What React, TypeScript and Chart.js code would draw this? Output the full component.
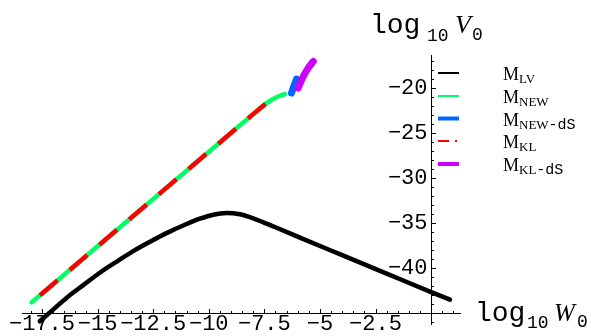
import React, { useEffect, useRef } from "react";
import { Chart, registerables } from "chart.js";

Chart.register(...registerables);

// ---- data ----
const LV_X = [-17.6, -17.0, -16.4, -15.6, -14.9, -14.1, -13.4, -12.6, -11.9, -11.1, -10.4, -9.8, -9.2, -8.6, -8.0, -7.0, -5.9, -4.0, -2.0, 0.0, 0.85];
const LV_Y = [-45.9, -44.6, -43.3, -41.8, -40.5, -39.2, -38.1, -37.0, -36.1, -35.2, -34.5, -34.05, -33.85, -34.0, -34.45, -35.45, -36.6, -38.55, -40.6, -42.65, -43.5];

const NEW_X = [-17.97, -15.0, -12.0, -9.0, -8.15, -7.7, -7.4, -7.0, -6.58];
const NEW_Y = [-43.8, -37.56, -31.26, -24.96, -23.18, -22.25, -21.64, -21.05, -20.64];

const NEWDS_X = [-6.28, -6.17, -6.05];
const NEWDS_Y = [-20.53, -19.75, -18.98];

const KL_X = [-17.59, -15.0, -12.0, -9.0, -8.15, -7.7, -7.45];
const KL_Y = [-43.0, -37.56, -31.26, -24.96, -23.18, -22.25, -21.74];

const KLDS_X = [-5.98, -5.75, -5.53, -5.3];
const KLDS_Y = [-19.98, -18.69, -17.76, -17.02];

const X_TICKS = [-17.5, -15, -12.5, -10, -7.5, -5, -2.5];
const Y_TICKS = [-40, -35, -30, -25, -20];
const X_RANGE = [-18.4, 1.3];
const Y_RANGE = [-46.2, -16.3];
const X_AXIS_AT_Y = -45;
const Y_AXIS_AT_X = 0;

const LEGEND = [
  { main: "M", sub: "LV", mono: "", color: "#000000", width: 2, dash: [] as number[] },
  { main: "M", sub: "NEW", mono: "", color: "#00ff66", width: 2, dash: [] as number[] },
  { main: "M", sub: "NEW", mono: "-dS", color: "#0066ff", width: 4, dash: [] as number[] },
  { main: "M", sub: "KL", mono: "", color: "#ff0000", width: 2, dash: [11, 6, 2, 20] },
  { main: "M", sub: "KL", mono: "-dS", color: "#cc00ff", width: 4, dash: [] as number[] },
];

const pts = (xs: number[], ys: number[]) => xs.map((x, i) => ({ x, y: ys[i] }));
const fmt = (v: number) => (v < 0 ? "\u2212" + String(Math.abs(v)) : String(v));

const MONO = "'Liberation Mono', 'DejaVu Sans Mono', monospace";
const SERIF = "'Liberation Serif', 'DejaVu Serif', serif";

const decorPlugin = {
  id: "decor",
  beforeDatasetsDraw(chart: any) {
    const { ctx } = chart;
    const xs = chart.scales.x;
    const ys = chart.scales.y;
    const x0 = Math.round(xs.getPixelForValue(Y_AXIS_AT_X)) + 0.5;
    const y0 = Math.round(ys.getPixelForValue(X_AXIS_AT_Y)) + 0.5;
    ctx.save();
    ctx.strokeStyle = "#000";
    ctx.lineWidth = 1;
    ctx.beginPath();
    // x-axis ticks (inward, upward)
    for (let k = Math.ceil(X_RANGE[0] * 2); k <= Math.floor(X_RANGE[1] * 2); k++) {
      const v = k / 2;
      if (v === Y_AXIS_AT_X) continue;
      const major = Math.abs(v / 2.5 - Math.round(v / 2.5)) < 1e-9;
      const px = Math.round(xs.getPixelForValue(v)) + 0.5;
      ctx.moveTo(px, y0);
      ctx.lineTo(px, y0 - (major ? 4.5 : 2.5));
    }
    // y-axis ticks (inward, rightward)
    for (let v = Math.ceil(Y_RANGE[0]); v <= Math.floor(Y_RANGE[1]); v++) {
      if (v === X_AXIS_AT_Y) continue;
      const major = v % 5 === 0;
      const py = Math.round(ys.getPixelForValue(v)) + 0.5;
      ctx.moveTo(x0, py);
      ctx.lineTo(x0 + (major ? 4.5 : 2.5), py);
    }
    ctx.stroke();

    // y tick labels
    ctx.fillStyle = "#000";
    ctx.font = `22px ${MONO}`;
    ctx.textAlign = "right";
    ctx.textBaseline = "middle";
    for (const v of Y_TICKS) {
      ctx.fillText(fmt(v), x0 - 4, ys.getPixelForValue(v));
    }
    ctx.restore();
  },
  afterDraw(chart: any) {
    const { ctx } = chart;
    ctx.save();
    ctx.fillStyle = "#000";
    ctx.textAlign = "left";
    ctx.textBaseline = "alphabetic";
    // y-axis title: log10 V0
    ctx.font = `28px ${MONO}`;
    ctx.fillText("log", 370, 33);
    ctx.font = `18px ${MONO}`;
    ctx.fillText("10", 427, 41);
    ctx.font = `italic 26px ${SERIF}`;
    ctx.fillText("V", 455, 33);
    ctx.font = `18px ${MONO}`;
    ctx.fillText("0", 472, 40);
    // x-axis title: log10 W0
    ctx.font = `28px ${MONO}`;
    ctx.fillText("log", 475, 321);
    ctx.font = `18px ${MONO}`;
    ctx.fillText("10", 527, 328);
    ctx.font = `italic 25px ${SERIF}`;
    ctx.fillText("W", 554, 321);
    ctx.font = `18px ${MONO}`;
    ctx.fillText("0", 577, 327);

    // legend
    const rowY = [73, 96, 118.5, 141, 164];
    LEGEND.forEach((it, i) => {
      const y = rowY[i];
      ctx.save();
      ctx.strokeStyle = it.color;
      ctx.lineWidth = it.width;
      ctx.setLineDash(it.dash);
      ctx.beginPath();
      ctx.moveTo(438, y);
      ctx.lineTo(459, y);
      ctx.stroke();
      ctx.restore();
      let x = 503;
      const base = y + 7;
      ctx.font = `18px ${SERIF}`;
      ctx.fillText(it.main, x, base);
      x += ctx.measureText(it.main).width;
      ctx.font = `13px ${SERIF}`;
      ctx.fillText(it.sub, x, base + 3);
      x += ctx.measureText(it.sub).width;
      if (it.mono) {
        ctx.font = `15px ${MONO}`;
        ctx.fillText(it.mono, x, base + 3);
      }
    });
    ctx.restore();
  },
};

export default function App() {
  const ref = useRef<HTMLCanvasElement | null>(null);
  useEffect(() => {
    if (!ref.current) return;
    const chart = new Chart(ref.current, {
      type: "line",
      data: {
        datasets: [
          {
            label: "M_LV",
            data: pts(LV_X, LV_Y),
            borderColor: "#000000",
            borderWidth: 4.5,
            pointRadius: 0,
            cubicInterpolationMode: "monotone",
            borderCapStyle: "round",
            borderJoinStyle: "round",
            fill: false,
            order: 5,
            clip: false,
          },
          {
            label: "M_NEW",
            data: pts(NEW_X, NEW_Y),
            borderColor: "#00ff66",
            borderWidth: 4.5,
            pointRadius: 0,
            cubicInterpolationMode: "monotone",
            borderCapStyle: "round",
            fill: false,
            order: 4,
            clip: false,
          },
          {
            label: "M_NEW-dS",
            data: pts(NEWDS_X, NEWDS_Y),
            borderColor: "#0066ff",
            borderWidth: 7,
            pointRadius: 0,
            tension: 0.3,
            borderCapStyle: "round",
            fill: false,
            order: 3,
            clip: false,
          },
          {
            label: "M_KL",
            data: pts(KL_X, KL_Y),
            borderColor: "#ff0000",
            borderWidth: 4.5,
            borderDash: [23, 16],
            pointRadius: 0,
            cubicInterpolationMode: "monotone",
            borderCapStyle: "butt",
            fill: false,
            order: 2,
            clip: false,
          },
          {
            label: "M_KL-dS",
            data: pts(KLDS_X, KLDS_Y),
            borderColor: "#cc00ff",
            borderWidth: 7,
            pointRadius: 0,
            tension: 0.3,
            borderCapStyle: "round",
            fill: false,
            order: 1,
            clip: false,
          },
        ],
      },
      options: {
        responsive: false,
        animation: false,
        events: [],
        layout: { padding: { left: 22, right: 131, top: 55, bottom: 12 } },
        plugins: { legend: { display: false }, tooltip: { enabled: false }, title: { display: false } },
        scales: {
          x: {
            type: "linear",
            min: X_RANGE[0],
            max: X_RANGE[1],
            position: { y: X_AXIS_AT_Y } as any,
            grid: { display: false, drawTicks: false },
            border: { display: true, color: "#000", width: 1 },
            afterBuildTicks: (scale: any) => {
              scale.ticks = X_TICKS.map((v) => ({ value: v }));
            },
            ticks: {
              autoSkip: false,
              maxRotation: 0,
              minRotation: 0,
              padding: 0,
              color: "#000",
              font: { family: MONO, size: 22, lineHeight: 1.0 },
              callback: (v: any) => fmt(Number(v)),
            },
          },
          y: {
            type: "linear",
            min: Y_RANGE[0],
            max: Y_RANGE[1],
            position: { x: Y_AXIS_AT_X } as any,
            grid: { display: false, drawTicks: false },
            border: { display: true, color: "#000", width: 1 },
            afterBuildTicks: (scale: any) => {
              scale.ticks = Y_TICKS.map((v) => ({ value: v }));
            },
            ticks: { display: false },
          },
        },
      },
      plugins: [decorPlugin],
    });
    return () => chart.destroy();
  }, []);
  return (
    <div style={{ position: "fixed", left: 0, top: 0, width: 591, height: 336, background: "#fff" }}>
      <canvas ref={ref} width={591} height={336} style={{ display: "block" }} />
    </div>
  );
}
